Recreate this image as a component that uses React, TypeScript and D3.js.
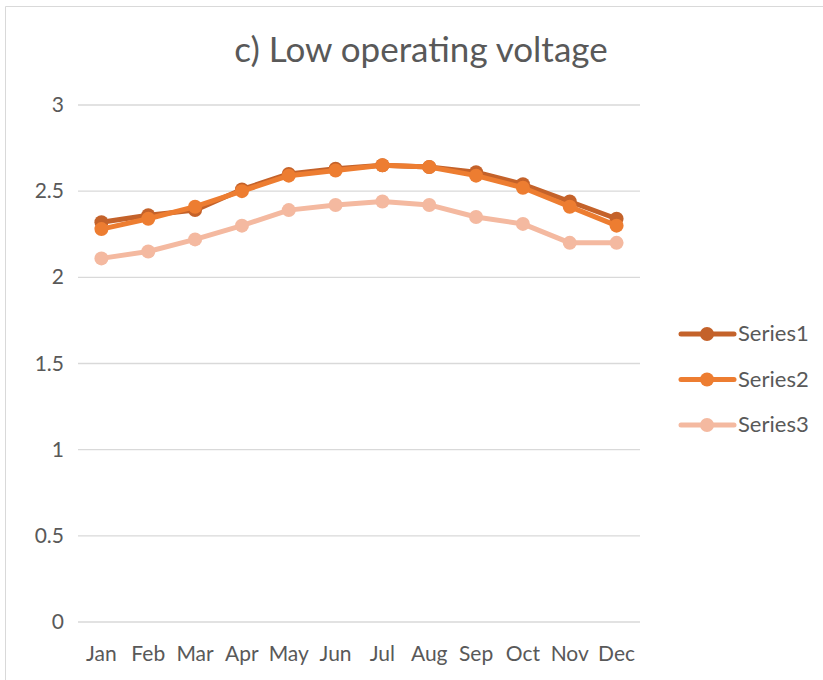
import React from 'react';
import * as d3 from 'd3';

const months = ['Jan', 'Feb', 'Mar', 'Apr', 'May', 'Jun', 'Jul', 'Aug', 'Sep', 'Oct', 'Nov', 'Dec'];
const series1 = [2.32, 2.36, 2.39, 2.51, 2.6, 2.63, 2.65, 2.64, 2.61, 2.54, 2.44, 2.34];
const series2 = [2.28, 2.34, 2.41, 2.5, 2.59, 2.62, 2.65, 2.64, 2.59, 2.52, 2.41, 2.3];
const series3 = [2.11, 2.15, 2.22, 2.3, 2.39, 2.42, 2.44, 2.42, 2.35, 2.31, 2.2, 2.2];
const seriesNames = ['Series1', 'Series2', 'Series3'];
const colors = ['#C4622A', '#ED7D31', '#F4B9A0'];
const yTicks = [0, 0.5, 1, 1.5, 2, 2.5, 3];

const font = 'Lato, "Open Sans", sans-serif';

export default function App() {
  const width = 823;
  const height = 680;
  const left = 78, right = 640, top = 105, bottom = 622;

  const x = d3.scaleBand<string>().domain(months).range([left, right]);
  const y = d3.scaleLinear().domain([0, 3]).range([bottom, top]);
  const line = d3.line<number>()
    .x((d, i) => x(months[i])! + x.bandwidth() / 2)
    .y(d => y(d));

  const all = [series1, series2, series3];

  return (
    <svg width={width} height={height} style={{ position: 'absolute', left: 0, top: 0 }}>
      <rect x={0} y={0} width={width} height={height} fill='#fff' />
      <path d={`M5.5,${height}V6.5H${width}`} fill='none' stroke='#d9d9d9' strokeWidth={1} />
      <text x={421} y={62} textAnchor='middle' fontFamily={font} fontSize={35} fill='#595959'>
        c) Low operating voltage
      </text>
      {yTicks.map(t => (
        <g key={t}>
          <line x1={left} x2={right} y1={y(t)} y2={y(t)} stroke='#d9d9d9' strokeWidth={1.3} />
          <text x={64} y={y(t) + 7} textAnchor='end' fontFamily={font} fontSize={21} fill='#595959'>{t}</text>
        </g>
      ))}
      {months.map(m => (
        <text key={m} x={x(m)! + x.bandwidth() / 2} y={661} textAnchor='middle'
              fontFamily={font} fontSize={21} fill='#595959'>{m}</text>
      ))}
      {all.map((vals, si) => (
        <g key={si}>
          <path d={line(vals)!} fill='none' stroke={colors[si]} strokeWidth={5} strokeLinejoin='round' />
          {vals.map((v, i) => (
            <circle key={i} cx={x(months[i])! + x.bandwidth() / 2} cy={y(v)} r={7} fill={colors[si]} />
          ))}
        </g>
      ))}
      {seriesNames.map((s, i) => {
        const ly = 334 + i * 45.5;
        return (
          <g key={s}>
            <line x1={681} x2={734} y1={ly} y2={ly} stroke={colors[i]} strokeWidth={5} strokeLinecap='round' />
            <circle cx={707} cy={ly} r={7} fill={colors[i]} />
            <text x={738} y={ly + 7} fontFamily={font} fontSize={22} fill='#595959'>{s}</text>
          </g>
        );
      })}
    </svg>
  );
}
